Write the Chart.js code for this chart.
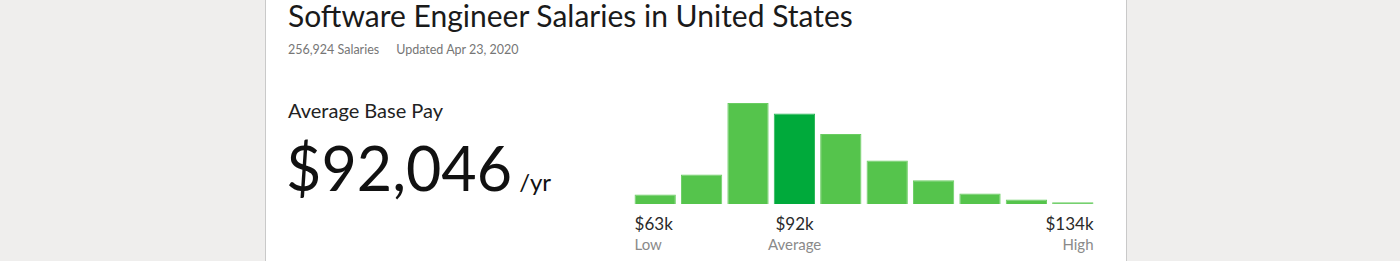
<!DOCTYPE html>
<html lang="en">
<head>
    <meta charset="UTF-8">
    <title>Software Engineer Salaries</title>
    <style>
        html, body { margin: 0; padding: 0; }
        body {
            width: 1400px; height: 261px; overflow: hidden;
            background: #efeeed;
            font-family: Lato, "Open Sans", sans-serif;
            position: relative;
        }
        .card {
            position: absolute; left: 265px; top: 0; width: 860px; height: 261px;
            background: #fff;
            border-left: 1px solid #c9c9c9;
            border-right: 1px solid #c9c9c9;
        }
        .abs { position: absolute; white-space: nowrap; line-height: 1.2; }
        #title { left: 288px; top: 0; font-size: 30px; line-height: 30px; color: #1a1a1a; }
        #meta { left: 288px; top: 42px; font-size: 12.5px; color: #767676; }
        #meta span + span { margin-left: 17px; }
        #payLabel { left: 288px; top: 98px; font-size: 20px; color: #222; }
        #payValue { left: 286px; top: 131px; font-size: 61px; color: #111; font-weight: 400; }
        #payValue small { font-size: 24px; margin-left: 7px; }
        #chartBox { position: absolute; left: 631.5px; top: 100px; width: 464px; height: 104px; }
        .tick { position: absolute; top: 213.5px; white-space: nowrap; }
        .tick .v { font-size: 17px; color: #2a2a2a; line-height: 20px; }
        .tick .n { font-size: 15px; color: #8a8a8a; line-height: 20px; }
    </style>
</head>
<body>
<div class="card"></div>
<div class="abs" id="title">Software Engineer Salaries in United States</div>
<div class="abs" id="meta"><span>256,924 Salaries</span><span>Updated Apr 23, 2020</span></div>
<div class="abs" id="payLabel">Average Base Pay</div>
<div class="abs" id="payValue">$92,046<small>/yr</small></div>
<div id="chartBox"><canvas id="salaries"></canvas></div>
<div id="ticks"></div>

<script src="https://cdn.jsdelivr.net/npm/chart.js"></script>
<script>
// salary distribution buckets (relative share of salaries per bucket)
const buckets = ["b1", "b2", "b3", "b4", "b5", "b6", "b7", "b8", "b9", "b10"];
const shares = [9.4, 29.4, 101, 90.4, 70, 43.4, 23.7, 10.4, 4.4, 1.7];
const averageBucket = 3;
// labels under the chart: [bucket index, value, name, alignment]
const tickLabels = [
    [0, "$63k", "Low", "start"],
    [3, "$92k", "Average", "center"],
    [9, "$134k", "High", "end"],
];

const fill = shares.map((v, i) => i === averageBucket ? "#00aa3b" : "#55c44c");
const edge = shares.map((v, i) => i === averageBucket ? "#27b556" : "#6acd62");

const chart = new Chart("salaries", {
    type: "bar",
    data: {
        labels: buckets,
        datasets: [{
            data: shares,
            backgroundColor: fill,
            borderColor: edge,
            borderWidth: 1,
            barPercentage: 0.89,
            categoryPercentage: 1,
        }],
    },
    options: {
        responsive: true,
        maintainAspectRatio: false,
        animation: false,
        layout: { padding: 0 },
        plugins: { legend: { display: false }, tooltip: { enabled: false } },
        scales: {
            x: { display: false },
            y: { display: false, min: 0, max: 104 },
        },
    },
});

// place the low / average / high labels under their bars
const box = document.getElementById("chartBox");
const ticks = document.getElementById("ticks");
const meta = chart.getDatasetMeta(0);
for (const [idx, value, name, align] of tickLabels) {
    const bar = meta.data[idx];
    const half = bar.width / 2;
    const el = document.createElement("div");
    el.className = "tick";
    el.innerHTML = `<div class="v">${value}</div><div class="n">${name}</div>`;
    ticks.appendChild(el);
    const left = box.offsetLeft;
    if (align === "start") {
        el.style.left = (left + bar.x - half) + "px";
    } else if (align === "end") {
        el.style.left = (left + bar.x + half - el.offsetWidth) + "px";
        el.style.textAlign = "right";
    } else {
        el.style.left = (left + bar.x - el.offsetWidth / 2) + "px";
        el.style.textAlign = "center";
    }
}
</script>
</body>
</html>
